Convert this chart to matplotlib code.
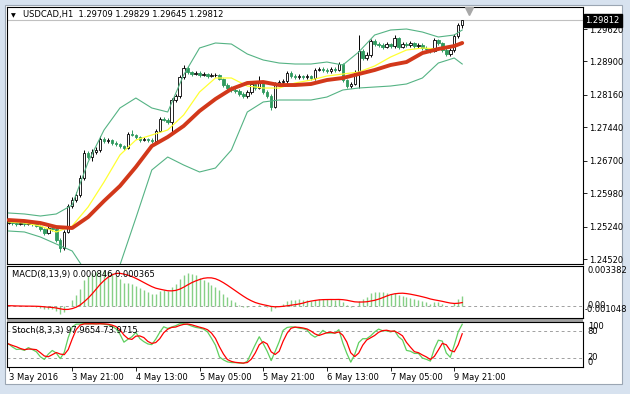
import matplotlib
matplotlib.use('Agg')
import matplotlib.pyplot as plt
import matplotlib.transforms as mtransforms
from matplotlib.patches import Rectangle
import numpy as np
import pandas as pd

plt.rcParams['font.family'] = ['DejaVu Sans']

# dati (USDCAD H1)
symbol = 'USDCAD,H1'
ohlc_text = '1.29709 1.29829 1.29645 1.29812'
last_price = 1.29812
macd_text = 'MACD(8,13,9) 0.000846 0.000365'
stoch_text = 'Stoch(8,3,3) 97.9654 73.9715'

closes = [1.25341, 1.25319, 1.25297, 1.25319, 1.25297, 1.25319, 1.25297, 1.25253, 1.25186, 1.25097,
          1.25208, 1.25186, 1.24942, 1.24765, 1.25120, 1.25696, 1.25829, 1.25940, 1.26317, 1.26871,
          1.26782, 1.26893, 1.26937, 1.27181, 1.27137, 1.27159, 1.27093, 1.27070, 1.27026, 1.26982,
          1.27292, 1.27270, 1.27226, 1.27159, 1.27181, 1.27159, 1.27137, 1.27359, 1.27625, 1.27603,
          1.27558, 1.28046, 1.28135, 1.28556, 1.28755, 1.28667, 1.28622, 1.28645, 1.28600, 1.28622,
          1.28578, 1.28600, 1.28600, 1.28512, 1.28378, 1.28312, 1.28268, 1.28245, 1.28179, 1.28135,
          1.28223, 1.28401, 1.28312, 1.28423, 1.28223, 1.28135, 1.27891, 1.28401, 1.28445, 1.28467,
          1.28645, 1.28578, 1.28556, 1.28578, 1.28556, 1.28578, 1.28534, 1.28711, 1.28733, 1.28711,
          1.28689, 1.28733, 1.28711, 1.28844, 1.28489, 1.28356, 1.28401, 1.28667, 1.29132, 1.28977,
          1.29044, 1.29354, 1.29287, 1.29265, 1.29221, 1.29287, 1.29243, 1.29420, 1.29221, 1.29287,
          1.29265, 1.29310, 1.29243, 1.29265, 1.29199, 1.29177, 1.29132, 1.29376, 1.29310, 1.29154,
          1.29066, 1.29154, 1.29465, 1.29709, 1.29812]
highs = [1.25380, 1.25370, 1.25350, 1.25360, 1.25350, 1.25360, 1.25340, 1.25330, 1.25280, 1.25210,
         1.25250, 1.25260, 1.25210, 1.24980, 1.25160, 1.25740, 1.25900, 1.26000, 1.26380, 1.26930,
         1.26920, 1.26960, 1.27000, 1.27250, 1.27230, 1.27200, 1.27190, 1.27130, 1.27100, 1.27050,
         1.27330, 1.27381, 1.27300, 1.27250, 1.27220, 1.27210, 1.27200, 1.27400, 1.27680, 1.27660,
         1.27640, 1.28090, 1.28190, 1.28600, 1.28822, 1.28790, 1.28700, 1.28690, 1.28680, 1.28660,
         1.28650, 1.28640, 1.28650, 1.28630, 1.28540, 1.28420, 1.28350, 1.28310, 1.28280, 1.28220,
         1.28260, 1.28440, 1.28430, 1.28578, 1.28450, 1.28260, 1.28170, 1.28440, 1.28500, 1.28520,
         1.28690, 1.28680, 1.28620, 1.28620, 1.28610, 1.28620, 1.28610, 1.28760, 1.28780, 1.28770,
         1.28750, 1.28770, 1.28770, 1.28890, 1.28870, 1.28520, 1.28440, 1.28710, 1.29487, 1.29180,
         1.29100, 1.29400, 1.29390, 1.29330, 1.29300, 1.29340, 1.29320, 1.29487, 1.29450, 1.29330,
         1.29330, 1.29350, 1.29340, 1.29310, 1.29300, 1.29240, 1.29210, 1.29420, 1.29400, 1.29340,
         1.29190, 1.29200, 1.29510, 1.29750, 1.29829]
lows = [1.25300, 1.25280, 1.25260, 1.25270, 1.25260, 1.25270, 1.25250, 1.25220, 1.25150, 1.25050,
        1.25070, 1.25140, 1.24900, 1.24676, 1.24720, 1.25090, 1.25650, 1.25780, 1.25900, 1.26280,
        1.26740, 1.26700, 1.26850, 1.26900, 1.27090, 1.27100, 1.27050, 1.27030, 1.26990, 1.26940,
        1.26950, 1.27240, 1.27190, 1.27120, 1.27130, 1.27120, 1.27090, 1.27100, 1.27330, 1.27570,
        1.27520, 1.27337, 1.28000, 1.28100, 1.28520, 1.28630, 1.28580, 1.28590, 1.28560, 1.28570,
        1.28540, 1.28550, 1.28560, 1.28480, 1.28340, 1.28270, 1.28230, 1.28200, 1.28140, 1.28100,
        1.28090, 1.28190, 1.28270, 1.28280, 1.28190, 1.28090, 1.27824, 1.27860, 1.28360, 1.28410,
        1.28430, 1.28540, 1.28520, 1.28520, 1.28520, 1.28520, 1.28500, 1.28500, 1.28680, 1.28670,
        1.28650, 1.28650, 1.28670, 1.28680, 1.28450, 1.28312, 1.28320, 1.28370, 1.28312, 1.28930,
        1.28940, 1.29010, 1.29250, 1.29220, 1.29180, 1.29190, 1.29200, 1.29210, 1.29180, 1.29190,
        1.29230, 1.29230, 1.29200, 1.29200, 1.29160, 1.29140, 1.29090, 1.29100, 1.29270, 1.29110,
        1.29020, 1.29030, 1.29120, 1.29430, 1.29645]
opens = [1.25330] + closes[:-1]  # apertura = chiusura della barra precedente

# linee degli indicatori lette ogni 4 barre
line_idx = list(range(0, 113, 4)) + [114]
bb_upper = [1.25541, 1.25519, 1.25474, 1.25519, 1.25718, 1.26671, 1.27381, 1.27869, 1.28090, 1.27869,
            1.27780, 1.28600, 1.29199, 1.29310, 1.29287, 1.29066, 1.28933, 1.28866, 1.28844, 1.28844,
            1.28888, 1.28822, 1.29110, 1.29487, 1.29598, 1.29620, 1.29553, 1.29443, 1.29487, 1.29598]
bb_lower = [1.25142, 1.25120, 1.25009, 1.24853, 1.24698, 1.24166, 1.23834, 1.24388, 1.25430, 1.26494,
            1.26782, 1.26605, 1.26450, 1.26538, 1.26937, 1.27780, 1.28002, 1.28046, 1.28046, 1.28046,
            1.28112, 1.28268, 1.28312, 1.28334, 1.28356, 1.28401, 1.28534, 1.28866, 1.28977, 1.28844]
ma_fast = [1.25341, 1.25319, 1.25253, 1.25120, 1.25253, 1.25674, 1.26228, 1.26827, 1.27159, 1.27270,
           1.27381, 1.27713, 1.28223, 1.28534, 1.28534, 1.28356, 1.28312, 1.28312, 1.28423, 1.28489,
           1.28578, 1.28622, 1.28667, 1.28800, 1.28999, 1.29154, 1.29199, 1.29177, 1.29221, 1.29332]
ma_slow = [1.25385, 1.25363, 1.25319, 1.25230, 1.25208, 1.25452, 1.25807, 1.26139, 1.26561, 1.27026,
           1.27226, 1.27470, 1.27802, 1.28068, 1.28290, 1.28423, 1.28445, 1.28378, 1.28378, 1.28401,
           1.28489, 1.28534, 1.28622, 1.28711, 1.28822, 1.28888, 1.29088, 1.29177, 1.29243, 1.29310]

price_ticks = [1.29620, 1.28900, 1.28160, 1.27440, 1.26700, 1.25980, 1.25240, 1.24520]
time_pos = [0, 16, 32, 48, 64, 80, 96, 112]
time_labels = ['3 May 2016', '3 May 21:00', '4 May 13:00', '5 May 05:00',
               '5 May 21:00', '6 May 13:00', '7 May 05:00', '9 May 21:00']

# indicatori calcolati dalle candele
cs = pd.Series(closes)
hs = pd.Series(highs)
ls = pd.Series(lows)
macd = cs.ewm(span=8, adjust=False).mean() - cs.ewm(span=13, adjust=False).mean()
macd_sig = macd.rolling(9, min_periods=1).mean()
ll = ls.rolling(8, min_periods=1).min()
hh = hs.rolling(8, min_periods=1).max()
st_k = 100 * (cs - ll).rolling(3, min_periods=1).sum() / (hh - ll).rolling(3, min_periods=1).sum()
st_d = st_k.rolling(3, min_periods=1).mean()

W, H = 630, 394
fig = plt.figure(figsize=(6.3, 3.94), dpi=100)
fig.patch.set_facecolor('#d7e2ef')
fig.patches.append(Rectangle((5 / W, 1 - 384 / H), 617 / W, 379 / H, transform=fig.transFigure,
                             facecolor='white', edgecolor='#9ba6b3', lw=0.8, zorder=-2))
fig.patches.append(Rectangle((7 / W, 1 - 322 / H), 576 / W, 3.5 / H, transform=fig.transFigure,
                             facecolor='#a0a0a0', edgecolor='none', zorder=-1))


def box(l, t, r, b):
    return [l / W, 1 - b / H, (r - l) / W, (b - t) / H]


ax = fig.add_axes(box(7, 7, 583, 264))
ax_m = fig.add_axes(box(7, 266, 583, 318))
ax_s = fig.add_axes(box(7, 322, 583, 367))
xmin, xmax = -0.38, 144.35
for a in (ax, ax_m, ax_s):
    a.set_xlim(xmin, xmax)
    a.set_facecolor('none')
    a.set_zorder(1)
    for sp in a.spines.values():
        sp.set_color('black')
        sp.set_linewidth(0.8)

bear = '#2f9a5f'
x = np.arange(len(closes))
o = np.array(opens)
c = np.array(closes)
hi = np.array(highs)
lo = np.array(lows)
up = c >= o

ax.axhline(last_price, color='#c0c0c0', lw=0.8, zorder=1)
ax.vlines(x[up], lo[up], hi[up], color='black', lw=0.7, zorder=2)
ax.vlines(x[~up], lo[~up], hi[~up], color=bear, lw=0.7, zorder=2)
ax.bar(x, np.maximum(np.abs(c - o), 0.00003), bottom=np.minimum(o, c), width=0.62,
       color=np.where(up, 'white', bear), edgecolor=np.where(up, 'black', bear), linewidth=0.6, zorder=3)

ax.plot(line_idx, bb_upper, color='#55b384', lw=0.8, zorder=4)
ax.plot(line_idx, bb_lower, color='#55b384', lw=0.8, zorder=4)
ax.plot(line_idx, ma_fast, color='#ffff33', lw=0.9, zorder=4)
ax.plot(line_idx, ma_slow, color='#d2381a', lw=2.8, zorder=5, solid_capstyle='round')

ax.set_ylim(1.24410, 1.30108)
ax.yaxis.tick_right()
ax.set_yticks(price_ticks)
ax.set_yticklabels(['%.5f' % p for p in price_ticks])
ax.tick_params(axis='y', length=3, width=0.6, pad=1.5, labelsize=6, colors='black')
ax.set_xticks([])

blend = mtransforms.blended_transform_factory(ax.transAxes, ax.transData)
ax.text(1.0045, last_price, '%.5f' % last_price, transform=blend, fontsize=6, color='white',
        va='center', ha='left', zorder=10, clip_on=False,
        bbox=dict(boxstyle='square,pad=0.22', fc='black', ec='black'))
ax.plot([115.6], [0.985], transform=mtransforms.blended_transform_factory(ax.transData, ax.transAxes),
        marker='v', ms=6, color='#a8a8a8', mec='#a8a8a8', clip_on=False, zorder=6)

fig.text(11 / W, 1 - 15.5 / H, '\u25bc', fontsize=4.5, va='center', ha='left', zorder=5)
fig.text(23 / W, 1 - 15 / H, symbol + '  ' + ohlc_text, fontsize=6, va='center', ha='left', zorder=5)

# MACD
ax_m.set_ylim(-0.001048, 0.003382)
ax_m.axhline(0, color='#a0a0a0', lw=0.7, dashes=(3, 3))
ax_m.vlines(x, 0, macd.values, color='#86d086', lw=1.0)
ax_m.plot(x, macd_sig.values, color='#ff0000', lw=0.9)
ax_m.set_xticks([])
ax_m.set_yticks([])
ax_m.text(5 / 576, 1 - 9 / 52, macd_text, transform=ax_m.transAxes, fontsize=6, va='center', ha='left')
bm = mtransforms.blended_transform_factory(ax_m.transAxes, ax_m.transData)
ax_m.text(1.008, 0.003382, '0.003382', transform=bm, fontsize=6, va='top', ha='left', clip_on=False)
ax_m.text(1.008, 0.0, '0.00', transform=bm, fontsize=6, va='center', ha='left', clip_on=False)
ax_m.text(1.003, 9 / 52, '-0.001048', transform=ax_m.transAxes, fontsize=6, va='center', ha='left', clip_on=False)

# Stocastico
ax_s.set_ylim(0, 100)
ax_s.axhline(80, color='#a0a0a0', lw=0.7, dashes=(3, 3))
ax_s.axhline(20, color='#a0a0a0', lw=0.7, dashes=(3, 3))
ax_s.plot(x, st_k.values, color='#5fcf5f', lw=0.9)
ax_s.plot(x, st_d.values, color='#ff0000', lw=0.9)
ax_s.set_yticks([])
ax_s.text(5 / 576, 1 - 8 / 45, stoch_text, transform=ax_s.transAxes, fontsize=6, va='center', ha='left')
bs = mtransforms.blended_transform_factory(ax_s.transAxes, ax_s.transData)
ax_s.text(1.008, 100, '100', transform=bs, fontsize=6, va='top', ha='left', clip_on=False)
ax_s.text(1.008, 80, '80', transform=bs, fontsize=6, va='center', ha='left', clip_on=False)
ax_s.text(1.008, 20, '20', transform=bs, fontsize=6, va='center', ha='left', clip_on=False)
ax_s.text(1.008, 0, '0', transform=bs, fontsize=6, va='bottom', ha='left', clip_on=False)
ax_s.set_xticks(time_pos)
ax_s.set_xticklabels(time_labels, ha='left')
ax_s.tick_params(axis='x', length=3, width=0.6, pad=1.2, labelsize=6)

fig.savefig('out.png', dpi=100, facecolor=fig.get_facecolor())
